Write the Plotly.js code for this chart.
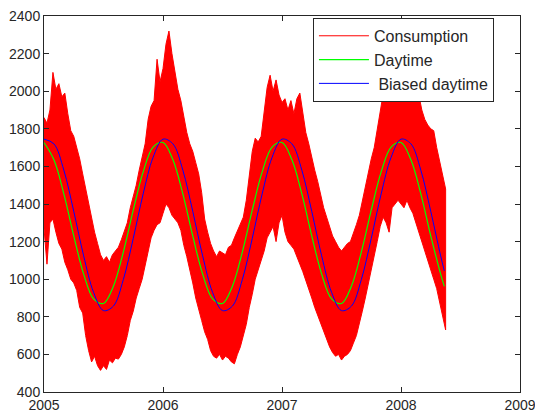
<!DOCTYPE html>
<html>
<head>
<meta charset="utf-8">
<script src="https://cdn.plot.ly/plotly-3.0.1.min.js"></script>
<style>
html,body{margin:0;padding:0;background:#fff;}
#chart{width:535px;height:412px;}
</style>
</head>
<body>
<div id="chart"></div>
<script>
// ---- data ----
const seriesNames = ['Consumption', 'Daytime', ' Biased daytime'];
const xTickValues = [2005, 2006, 2007, 2008, 2009];
const xTickLabels = ['2005', '2006', '2007', '2008', '2009'];

// Consumption envelope, sampled every 0.025 year from 2005.0
const consStart = 2005.0;
const consStep = 0.025;
const consUpper = [
  1860,1830,1900,2100,2010,2040,1970,1990,1880,1790,
  1760,1700,1640,1560,1480,1400,1330,1250,1190,1130,
  1100,1120,1090,1130,1150,1170,1210,1260,1300,1380,
  1440,1500,1580,1660,1720,1850,1920,1950,2170,2050,
  2120,2250,2320,2200,2100,2010,1950,1860,1780,1720,
  1680,1620,1560,1460,1320,1250,1190,1150,1120,1150,
  1140,1130,1170,1180,1220,1260,1300,1330,1420,1560,
  1680,1750,1730,1760,1900,2020,2085,2000,2060,1980,
  1940,1960,1900,1950,1880,1960,1990,1880,1780,1720,
  1640,1580,1520,1440,1380,1330,1280,1230,1200,1170,
  1150,1170,1190,1200,1240,1290,1340,1420,1500,1580,
  1640,1700,1800,1900,2000,2080,2130,2150,2180,2200,
  2220,2200,2150,2100,2080,2020,1980,1900,1850,1820,
  1800,1790,1700,1620,1550,1480
];
const consLower = [
  1270,1080,1300,1320,1250,1190,1160,1090,1050,1000,
  980,940,850,820,700,620,560,590,540,515,
  540,520,570,555,580,575,600,640,700,780,
  830,900,950,1000,1080,1150,1220,1260,1290,1300,
  1350,1400,1380,1340,1320,1300,1260,1180,1120,1060,
  980,900,840,780,720,680,620,590,580,600,
  570,590,580,560,550,600,640,700,760,850,
  920,1000,1050,1100,1150,1220,1250,1280,1200,1300,
  1340,1250,1200,1180,1160,1120,1080,1040,1000,950,
  900,850,800,760,720,680,640,610,590,600,
  570,590,600,620,660,700,760,830,900,980,
  1050,1120,1200,1280,1330,1300,1250,1380,1400,1420,
  1400,1380,1420,1380,1350,1300,1260,1200,1150,1100,
  1050,1000,950,880,800,730
];

// Daytime curves, one value per month from 2005.0, plus the last sample
const monthStart = 2005.0;
const monthStep = 1 / 12;
const lastYear = 2008.364;
const daytime = [
  1727,1635,1454,1231,1027,895,871,963,1144,1367,1571,1703,
  1727,1635,1454,1231,1027,895,871,963,1144,1367,1571,1703,
  1727,1635,1454,1231,1027,895,871,963,1144,1367,1571,1703,
  1727,1635,1454,1231,1027,
  962
];
const biasedDaytime = [
  1745,1720,1580,1361,1124,930,833,857,998,1217,1454,1648,
  1745,1720,1580,1361,1124,930,833,857,998,1217,1454,1648,
  1745,1720,1580,1361,1124,930,833,857,998,1217,1454,1648,
  1745,1720,1580,1361,1124,
  1044
];

// ---- build traces ----
const consX = consUpper.map((_, i) => consStart + i * consStep);
const polyX = consX.concat(consX.slice().reverse());
const polyY = consUpper.concat(consLower.slice().reverse());

const dayX = daytime.map((_, i) => i === daytime.length - 1 ? lastYear : monthStart + i * monthStep);

const traces = [
  { // legend entry for consumption (line sample)
    x: [null], y: [null], type: 'scatter', mode: 'lines',
    name: seriesNames[0], line: {color: '#ff0000', width: 1}, hoverinfo: 'skip'
  },
  {
    x: polyX, y: polyY, type: 'scatter', mode: 'lines', fill: 'toself',
    fillcolor: '#ff0000', line: {color: '#ff0000', width: 1},
    showlegend: false, name: seriesNames[0]
  },
  {
    x: dayX, y: daytime, type: 'scatter', mode: 'lines', name: seriesNames[1],
    line: {color: '#00ff00', width: 1.2, shape: 'spline', smoothing: 1}
  },
  {
    x: dayX, y: biasedDaytime, type: 'scatter', mode: 'lines', name: seriesNames[2],
    line: {color: '#0000ff', width: 1, shape: 'spline', smoothing: 1}
  }
];

const axisCommon = {
  showgrid: false, zeroline: false, showline: true, linecolor: '#262626', linewidth: 1,
  mirror: 'ticks', ticks: 'inside', ticklen: 5, tickcolor: '#262626', tickwidth: 1,
  ticklabeloverflow: 'allow',
  tickfont: {family: 'Liberation Sans, Arial, sans-serif', size: 14, color: '#262626'}
};

const layout = {
  width: 535, height: 412,
  margin: {l: 44, r: 15, t: 16, b: 20, pad: 0},
  paper_bgcolor: '#ffffff', plot_bgcolor: '#ffffff',
  showlegend: true,
  xaxis: Object.assign({}, axisCommon, {
    range: [2005, 2009], tickmode: 'array', tickvals: xTickValues, ticktext: xTickLabels
  }),
  yaxis: Object.assign({}, axisCommon, {
    range: [400, 2400], tickmode: 'linear', tick0: 400, dtick: 200
  }),
  legend: {
    x: 0.565, y: 0.995, xanchor: 'left', yanchor: 'top',
    bgcolor: '#ffffff', bordercolor: '#262626', borderwidth: 1,
    font: {family: 'Liberation Sans, Arial, sans-serif', size: 16, color: '#262626'},
    itemwidth: 50, tracegroupgap: 0
  }
};

Plotly.newPlot('chart', traces, layout, {staticPlot: true, displayModeBar: false});
</script>
</body>
</html>
